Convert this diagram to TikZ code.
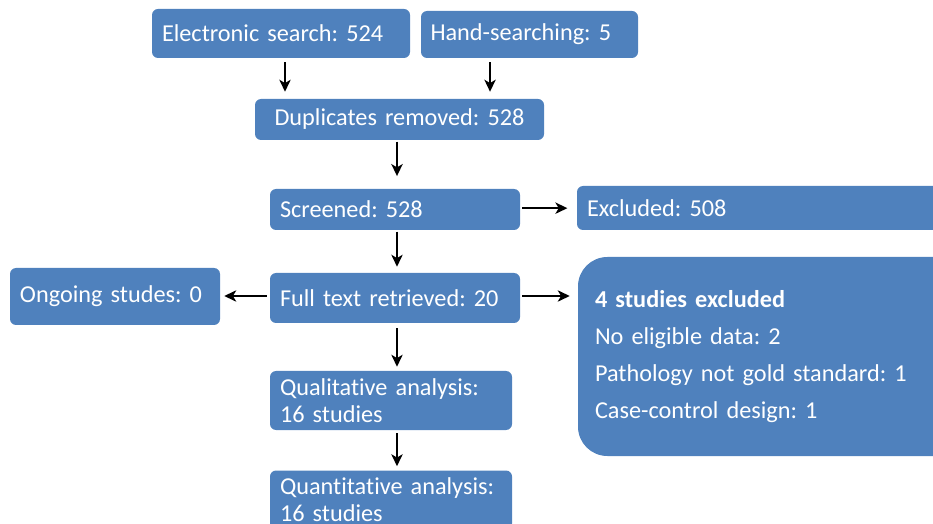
\documentclass[tikz,border=0pt]{standalone}
\usepackage{fontspec}
\setmainfont{Carlito}[Ligatures=NoCommon]
\usetikzlibrary{arrows.meta}
\definecolor{boxblue}{HTML}{4F81BD}
\frenchspacing
\hyphenpenalty=10000
\exhyphenpenalty=10000
\begin{document}
\begin{tikzpicture}[x=0.75pt,y=-0.75pt,
  box/.style={fill=boxblue, rounded corners=4.5pt, text=white, inner xsep=7.5pt, inner ysep=0pt,
    align=left, font=\fontsize{18.2pt}{20.25pt}\selectfont},
  arr/.style={-{Stealth[length=9pt,width=8.5pt,inset=2.5pt]}, line width=1.4pt, black}]
\useasboundingbox (0,0) rectangle (933,524);
\clip (0,0) rectangle (933,524);
\node[box, minimum width=193.5pt, minimum height=36.75pt, text width=178.5pt] (es) at (281,33.5) {Electronic search: 524};
\node[box, minimum width=162.75pt, minimum height=35.25pt, text width=148.5pt, inner xsep=7pt] (hs) at (529.5,34.5) {Hand-searching: 5};
\node[box, minimum width=216.75pt, minimum height=30.75pt, text width=201.75pt, align=center] (dup) at (399.5,119.5) {Duplicates removed: 528};
\node[box, minimum width=187.5pt, minimum height=30.75pt, text width=172.5pt] (scr) at (395,209.5) {Screened: 528};
\node[box, minimum width=287.25pt, minimum height=33pt, text width=272.25pt] (exc) at (768.5,208) {Excluded: 508};
\node[box, minimum width=187.5pt, minimum height=37.5pt, text width=172.5pt] (ft) at (395,298) {Full text retrieved: 20};
\node[box, minimum width=157.5pt, minimum height=42.75pt, text width=142.5pt] (og) at (115,296.5) {Ongoing studes: 0};
\node[box, rounded corners=22pt, minimum width=290.25pt, minimum height=149.25pt, inner xsep=12.75pt, text width=264.75pt,
  font=\fontsize{18.2pt}{27.75pt}\selectfont] (four) at (771.5,356.5)
  {\textbf{4 studies excluded}\\No eligible data: 2\\Pathology not gold standard: 1\\Case-control design: 1};
\node[box, minimum width=181.5pt, minimum height=44.25pt, inner xsep=7.5pt, text width=166.5pt] (qual) at (391,400.5) {Qualitative analysis:\\16 studies};
\node[box, minimum width=181.5pt, minimum height=44.25pt, inner xsep=7.5pt, text width=166.5pt] (quant) at (391,500) {Quantitative analysis:\\16 studies};
% connectors
\draw[arr, shorten <=3pt, shorten >=5.25pt] ([xshift=3pt]es.south) -- ([xshift=3pt]es.south |- dup.north);
\draw[arr, shorten <=3pt, shorten >=5.25pt] ([xshift=-29.6pt]hs.south) -- ([xshift=-29.6pt]hs.south |- dup.north);
\draw[arr, shorten <=1pt, shorten >=9.5pt] ([xshift=1.5pt]scr.north |- dup.south) -- ([xshift=1.5pt]scr.north);
\draw[arr, shorten <=1pt, shorten >=4.5pt] ([xshift=1.5pt]scr.south) -- ([xshift=1.5pt]scr.south |- ft.north);
\draw[arr, shorten <=1.5pt, shorten >=7pt] ([yshift=1pt]scr.east) -- ([yshift=1pt]scr.east -| exc.west);
\draw[arr, shorten <=2.25pt, shorten >=3pt] ([yshift=1.5pt]ft.west) -- ([yshift=1.5pt]ft.west -| og.east);
\draw[arr, shorten <=1.5pt, shorten >=6pt] ([yshift=1.5pt]ft.east) -- ([yshift=1.5pt]ft.east -| four.west);
\draw[arr, shorten <=3.75pt, shorten >=3pt] ([xshift=1.5pt]ft.south) -- ([xshift=1.5pt]ft.south |- qual.north);
\draw[arr, shorten <=2.25pt, shorten >=3pt] ([xshift=4.5pt]qual.south) -- ([xshift=4.5pt]qual.south |- quant.north);
\end{tikzpicture}
\end{document}
